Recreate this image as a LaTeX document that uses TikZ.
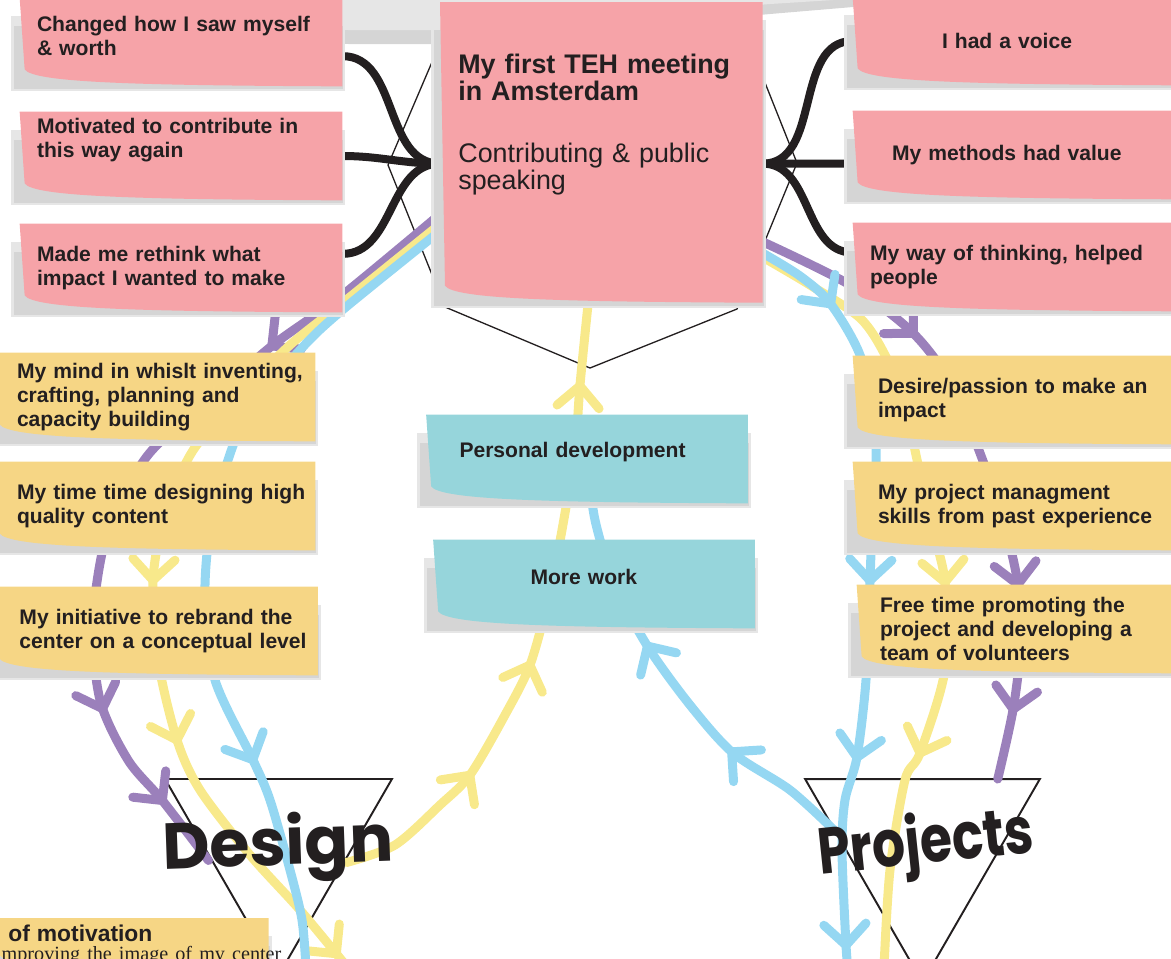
\documentclass[tikz,border=0pt]{standalone}
\usepackage{fontspec}
\setmainfont{Liberation Sans}
\newfontfamily\handfont{Poppins}
\newfontfamily\bookfont{Liberation Serif}
\usetikzlibrary{positioning, calc, shapes.geometric, decorations.markings}

\definecolor{notepink}{HTML}{F6A3A8}
\definecolor{noteyellow}{HTML}{F6D685}
\definecolor{noteteal}{HTML}{96D5DB}
\definecolor{papershade}{HTML}{D5D5D5}
\definecolor{papershadelight}{HTML}{E6E6E6}
\definecolor{ink}{HTML}{231F20}
\definecolor{routepurple}{HTML}{9B80BB}
\definecolor{routeyellow}{HTML}{F8E98B}
\definecolor{routeblue}{HTML}{95D7F2}

\pgfdeclarelayer{bg}
\pgfdeclarelayer{lines}
\pgfdeclarelayer{paper}
\pgfsetlayers{bg,lines,paper,main}

% one pixel on the board
\newcommand\pxl{0.02cm}

% note paper: soft shadow, then the sheet with its lifted bottom-left corner
\newcommand\stickypaper[2]{%
  \fill[papershadelight] ($(#1.north west)+(-9,18)$) rectangle ($(#1.south east)+(3,5)$);
  \fill[papershade] ($(#1.north west)+(-6,28)$) rectangle ($(#1.south east)+(1,3)$);
  \fill[fill=#2] (#1.north west) -- (#1.north east) -- (#1.south east)
    .. controls ($(#1.south west)+(110,-1)$) and ($(#1.south west)+(14,-4)$)
    .. ($(#1.south west)+(5,-17)$) -- cycle;
}

\tikzset{
  chev/.style={postaction={decorate, decoration={markings,
      mark=at position #1 with {\draw[line cap=round, line join=round]
        (-12pt,-12pt) -- (0pt,0pt) -- (-12pt,12pt);}}}},
}

\begin{document}
\begin{tikzpicture}[
    x=0.02cm, y=-0.02cm,
    every node/.style={font=\fontsize{12}{13.7}\selectfont\bfseries, text=ink},
    note/.style 2 args={minimum width=#1*\pxl, inner xsep=#2*\pxl,
      text width={(#1-2*#2)*\pxl}, inner ysep=0pt,
      minimum height=88*\pxl, align=left,
      execute at begin node={\rightskip=-60pt plus 1fil}},
    tri/.style={regular polygon, regular polygon sides=3,
      shape border rotate=180, draw=ink, line width=1.1pt,
      inner sep=0pt, outer sep=0pt},
    hand/.style={font=\handfont\bfseries\fontsize{37}{37}\selectfont},
    route/.style={draw=#1, line width=9*\pxl, line cap=round, line join=round},
    tie/.style={draw=ink, line width=8*\pxl, line cap=round},
    frame/.style={draw=ink, line width=0.75pt},
  ]
  \useasboundingbox (0,0) rectangle (1171,958);

  % the meeting
  \node[note={322}{18}, anchor=north west, minimum height=300*\pxl,
        text height=71*\pxl, text depth=229*\pxl,
        font=\fontsize{15.3}{13.7}\selectfont\bfseries] (teh) at (440,2)
    {My first TEH meeting\\in Amsterdam\\[21.6pt]{\mdseries Contributing \& public\\speaking}};

  % pink notes, left
  \node[note={322}{17}, text depth=20.5pt] (l1) at (181,42) {Changed how I saw myself\\\& worth};
  \node[note={322}{17}, text depth=34pt] (l2) at (181,156) {Motivated to contribute in\\this way again};
  \node[note={322}{17}] (l3) at (181,268) {Made me rethink what\\impact I wanted to make};
  % pink notes, right
  \node[note={330}{89}] (r1) at (1018,41)  {I had a voice};
  \node[note={330}{39}] (r2) at (1018,155) {My methods had value};
  \node[note={330}{17}] (r3) at (1018,267) {My way of thinking, helped\\people};

  % yellow notes
  \node[note={320}{22}] (y1) at (155,397) {My mind in whislt inventing,\\crafting, planning and\\capacity building};
  \node[note={320}{22}] (y2) at (155,506) {My time time designing high\\quality content};
  \node[note={323}{25}] (y3) at (156,631) {My initiative to rebrand the\\center on a conceptual level};
  \node[note={330}{25}] (y4) at (1018,400) {Desire/passion to make an\\impact};
  \node[note={330}{25}] (y5) at (1018,506) {My project managment\\skills from past experience};
  \node[note={326}{23}] (y6) at (1020,629) {Free time promoting the\\project and developing a\\team of volunteers};
  \node[note={273}{13}, anchor=north west, minimum height=0pt, inner ysep=7*\pxl] (y7) at (-5,918)
    {{\fontsize{13}{14}\selectfont of motivation}\\[-2.9pt]{\bookfont\mdseries\fontsize{11.5}{12}\selectfont\hspace*{-7pt}improving the image of my center}};

  % teal notes
  \node[note={321}{33}, text depth=10.5pt] (t1) at (587,459) {Personal development};
  \node[note={321}{97}, text depth=8pt] (t2) at (594,584) {More work};

  \begin{pgfonlayer}{bg}
    % shadow of the sheet above
    \fill[papershade] (340,-5) -- (340,36) .. controls (340,44) .. (350,44)
      -- (445,44) -- (770,14) -- (865,6) -- (865,-5) -- cycle;
    \fill[papershadelight] (340,-5) -- (340,24) .. controls (340,30) .. (350,30)
      -- (445,30) -- (770,4) -- (865,-2) -- (865,-5) -- cycle;
    \draw[frame] (450,20) -- (388,165) -- (445,307) -- (590,368)
      -- (737,309) -- (797,163) -- (740,20) -- cycle;
    \node[tri, minimum size=262*\pxl] (design) at (278.5,844.5) {};
    \node[tri, minimum size=271*\pxl] (projects) at (922.5,846.8) {};
  \end{pgfonlayer}

  \begin{pgfonlayer}{paper}
    \foreach \n/\c in {l1/notepink, l2/notepink, l3/notepink,
        r1/notepink, r2/notepink, r3/notepink, teh/notepink,
        y1/noteyellow, y2/noteyellow, y3/noteyellow, y4/noteyellow,
        y5/noteyellow, y6/noteyellow, y7/noteyellow,
        t1/noteteal, t2/noteteal}
      {\stickypaper{\n}{\c}}
  \end{pgfonlayer}

  % loose ends at the lower edge of the board
  \coordinate (yellowexitL) at (348,968);
  \coordinate (blueexitL) at (306,968);
  \coordinate (yellowexitR) at (884,968);
  \coordinate (blueexitR) at (848,968);

  \begin{pgfonlayer}{lines}
    % what the meeting changed
    \draw[tie] (l1.-5) to[out=0, in=180] (teh.184);
    \draw[tie] (l2.east) to[out=0, in=180] (teh.184);
    \draw[tie] (l3.5) to[out=0, in=180] (teh.184);
    \draw[tie] (teh.-4) to[out=0, in=180] (r1.west);
    \draw[tie] (teh.-4) to[out=0, in=180] (r2.183);
    \draw[tie] (teh.-4) to[out=0, in=180] (r3.175);

    % routes down to design
    \draw[route=routepurple, chev=0.257, chev=0.776, chev=0.909]
      plot[smooth] coordinates {(teh.201) (340,297) (273,345) (210,400) (148,455)
        (108,530) (93,620) (100,700) (128,760) (162,800) ($(design.center)+(-70,16)$)};
    \draw[route=routeyellow, chev=0.513, chev=0.689, chev=0.98]
      plot[smooth] coordinates {(teh.204) (340,305) (290,345) (240,395) (192,452)
        (165,515) (153,580) (158,660) (177,740) (200,790) (250,855) (300,910) (yellowexitL)};
    \draw[route=routeblue, chev=0.744]
      plot[smooth] coordinates {(teh.206) (340,312) (300,350) (250,410) (228,460)
        (210,530) (205,600) (215,680) (253,760) (270,800) (290,870) (302,920) (blueexitL)};

    % routes down to projects
    \draw[route=routepurple, chev=0.273, chev=0.697, chev=0.89]
      plot[smooth] coordinates {(teh.-29) (850,285) (913,333) (952,385) (980,453)
        (1003,520) (1018,585) (1020,650) (1013,710) (projects.42)};
    \draw[route=routeyellow, chev=0.5, chev=0.721]
      plot[smooth] coordinates {(teh.-33) (810,285) (860,318) (885,355) (905,405)
        (916,455) (930,520) (945,582) (945,670) (920,753) (905,780) (890,870) (yellowexitR)};
    \draw[route=routeblue, chev=0.112, chev=0.488, chev=0.721, chev=0.97]
      plot[smooth] coordinates {(teh.-32) (800,276) (830,303) (860,355) (874,420)
        (876,470) (872,530) (870,580) (866,680) (857,757) (845,800) (842,850) (846,945) (blueexitR)};

    % routes back up to personal development and the meeting
    \draw[route=routeyellow, chev=0.238, chev=0.432, chev=0.871]
      plot[smooth] coordinates {($(design.center)+(68,18)$) (395,845) (440,805) (470,775)
        (505,715) (530,665) (548,600) (562,530) (575,450) (580,385) (teh.-95)};
    \draw[route=routeblue, chev=0.282, chev=0.573]
      plot[smooth] coordinates {(projects.170) (790,790) (733,753) (690,705) (648,647)
        (615,585) (595,520) (t1.center)};
  \end{pgfonlayer}

  % hand lettering on the triangles
  \node[hand, rotate=2] (designlbl) at (278,848) {Design};
  \node[hand, rotate=6] (projectslbl) at (926,846) {\scalebox{0.8}[1]{Projects}};
\end{tikzpicture}
\end{document}
